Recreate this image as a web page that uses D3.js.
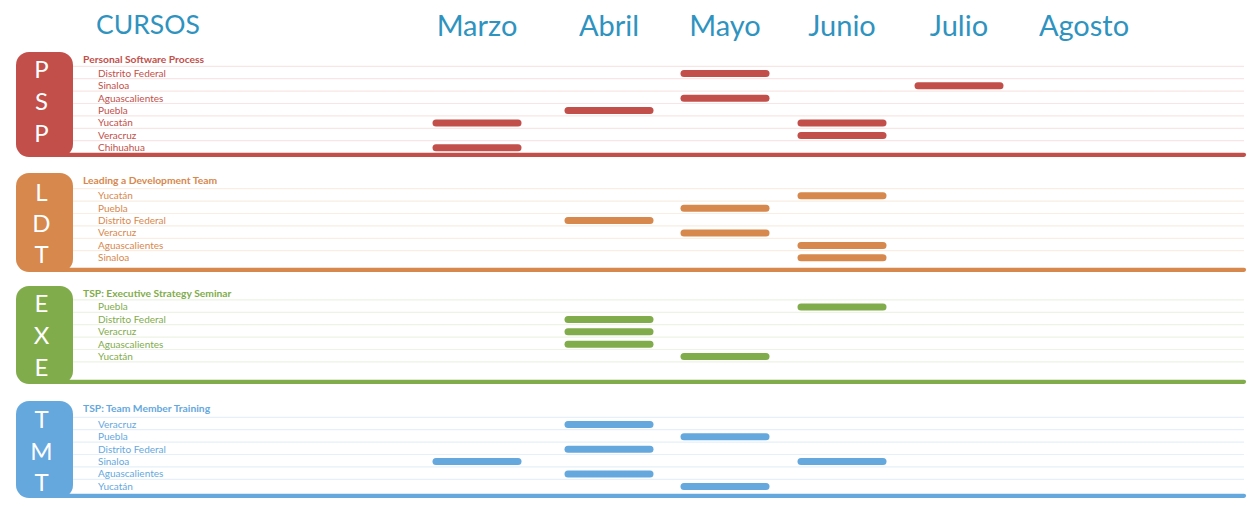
<!DOCTYPE html>
<html>
<head>
<meta charset="utf-8">
<script src="https://cdn.jsdelivr.net/npm/d3@7"></script>
<style>
  html, body { margin: 0; padding: 0; background: #fff; }
  svg { display: block; }
</style>
</head>
<body>
<svg id="chart" width="1253" height="505"></svg>
<script>
// ---------------- DATA ----------------
const months = ["Marzo", "Abril", "Mayo", "Junio", "Julio", "Agosto"];
const headerLabel = "CURSOS";

const groupCodes  = ["PSP", "LDT", "EXE", "TMT"];
const groupTitles = ["Personal Software Process", "Leading a Development Team",
                     "TSP: Executive Strategy Seminar", "TSP: Team Member Training"];

const pspRows   = ["Distrito Federal", "Sinaloa", "Aguascalientes", "Puebla", "Yucatán", "Veracruz", "Chihuahua"];
const pspMonths = [["Mayo"], ["Julio"], ["Mayo"], ["Abril"], ["Marzo", "Junio"], ["Junio"], ["Marzo"]];

const ldtRows   = ["Yucatán", "Puebla", "Distrito Federal", "Veracruz", "Aguascalientes", "Sinaloa"];
const ldtMonths = [["Junio"], ["Mayo"], ["Abril"], ["Mayo"], ["Junio"], ["Junio"]];

const exeRows   = ["Puebla", "Distrito Federal", "Veracruz", "Aguascalientes", "Yucatán"];
const exeMonths = [["Junio"], ["Abril"], ["Abril"], ["Abril"], ["Mayo"]];

const tmtRows   = ["Veracruz", "Puebla", "Distrito Federal", "Sinaloa", "Aguascalientes", "Yucatán"];
const tmtMonths = [["Abril"], ["Mayo"], ["Abril"], ["Marzo", "Junio"], ["Abril"], ["Mayo"]];

const groupRows   = [pspRows, ldtRows, exeRows, tmtRows];
const groupMonths = [pspMonths, ldtMonths, exeMonths, tmtMonths];

// ---------------- STYLE / LAYOUT ----------------
const colors = ["#c24f4a", "#d7884d", "#81ac4b", "#65a8de"];
const tints  = ["#f7e6e5", "#f9ede4", "#edf3e5", "#e6f0fa"];
const headColor = "#2f93c0";
const FONT = "Lato, 'Open Sans', sans-serif";

// group frame layout (top of box, bottom of box, first row centre, letter centres)
const layout = [
  {top: 52,  bottom: 157, first: 73.2, lmid: 101,   lsp: 32},
  {top: 173, bottom: 272, first: 195.6, lmid: 223,  lsp: 31},
  {top: 286, bottom: 384, first: 306.8, lmid: 335,  lsp: 32},
  {top: 401, bottom: 498, first: 424.2, lmid: 451,  lsp: 31.5}
];
const rowStep = 12.4;

const svg = d3.select("#chart");

const x = d3.scaleOrdinal()
  .domain(months)
  .range([477, 609, 725, 842, 959, 1084]);
const barW = 89;

// Header
svg.append("text")
  .attr("x", 96).attr("y", 34)
  .attr("font-family", FONT).attr("font-size", 26.5)
  .attr("fill", headColor)
  .text(headerLabel);

svg.selectAll("text.month")
  .data(months)
  .join("text")
  .attr("class", "month")
  .attr("x", d => x(d)).attr("y", 36)
  .attr("text-anchor", "middle")
  .attr("font-family", FONT).attr("font-size", 29)
  .attr("fill", headColor)
  .text(d => d);

// Groups
groupCodes.forEach((code, gi) => {
  const L = layout[gi];
  const col = colors[gi];
  const rows = groupRows[gi];
  const g = svg.append("g");
  const nSlots = Math.max(rows.length, 6);

  const y = d3.scaleLinear().domain([0, 1]).range([L.first, L.first + rowStep]);

  // separator lines
  g.selectAll("line.sep")
    .data(d3.range(nSlots))
    .join("line")
    .attr("x1", 70).attr("x2", 1244)
    .attr("y1", i => y(i) - 6.9).attr("y2", i => y(i) - 6.9)
    .attr("stroke", tints[gi]).attr("stroke-width", 1.2);

  // bottom thick line
  g.append("line")
    .attr("x1", 60).attr("x2", 1244)
    .attr("y1", L.bottom - 2.2).attr("y2", L.bottom - 2.2)
    .attr("stroke", col).attr("stroke-width", 4.2)
    .attr("stroke-linecap", "round");

  // box
  g.append("rect")
    .attr("x", 16).attr("y", L.top)
    .attr("width", 57).attr("height", L.bottom - L.top)
    .attr("rx", 13).attr("ry", 13)
    .attr("fill", col);

  g.selectAll("text.letter")
    .data(code.split(""))
    .join("text")
    .attr("x", 41.5)
    .attr("y", (d, i) => L.lmid + (i - 1) * L.lsp)
    .attr("dy", "0.36em")
    .attr("text-anchor", "middle")
    .attr("font-family", FONT).attr("font-size", 24)
    .attr("fill", "#fff")
    .text(d => d);

  // title
  g.append("text")
    .attr("x", 83).attr("y", L.top + 7)
    .attr("dy", "0.35em")
    .attr("font-family", FONT).attr("font-size", 10.3).attr("font-weight", "bold")
    .attr("fill", col)
    .text(groupTitles[gi]);

  // row labels
  g.selectAll("text.row")
    .data(rows)
    .join("text")
    .attr("class", "row")
    .attr("x", 98)
    .attr("y", (d, i) => y(i))
    .attr("dy", "0.35em")
    .attr("font-family", FONT).attr("font-size", 10)
    .attr("fill", col)
    .text(d => d);

  // bars
  const bars = [];
  groupMonths[gi].forEach((ms, i) => ms.forEach(m => bars.push({i, m})));
  g.selectAll("rect.bar")
    .data(bars)
    .join("rect")
    .attr("x", d => x(d.m) - barW / 2)
    .attr("y", d => y(d.i) - 3.3)
    .attr("width", barW).attr("height", 7)
    .attr("rx", 3.5).attr("ry", 3.5)
    .attr("fill", col);
});
</script>
</body>
</html>
